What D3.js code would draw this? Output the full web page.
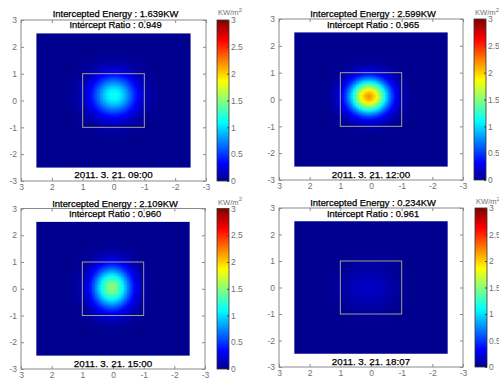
<!DOCTYPE html>
<html><head><meta charset="utf-8">
<script src="https://cdn.jsdelivr.net/npm/d3@7"></script>
<style>
html,body{margin:0;padding:0;background:#fff;}
svg{display:block;font-family:"Liberation Sans",Arial,sans-serif;}
</style></head>
<body>
<svg id="chart" width="499" height="378"></svg>
<script>
// ---------- data ----------
const panelTimes = ["2011. 3. 21. 09:00", "2011. 3. 21. 12:00", "2011. 3. 21. 15:00", "2011. 3. 21. 18:07"];
const interceptedEnergy = ["1.639", "2.599", "2.109", "0.234"];
const interceptRatio = ["0.949", "0.965", "0.960", "0.961"];
const axisTicks = [3, 2, 1, 0, -1, -2, -3];
const colorbarTicks = [3, 2.5, 2, 1.5, 1, 0.5, 0];
const fluxMax = 3;
const heliostatHalf = 2.5;      // flux map extent (m)
const receiverHalf = 1;         // receiver square (m)
// radial flux profiles (kW/m^2)
const profileRadii = [0, 0.2, 0.4, 0.6, 0.8, 1.0, 1.2, 1.4, 1.6];
const flux0900 = [1.17, 1.07, 0.83, 0.54, 0.30, 0.14, 0.055, 0.018, 0];
const flux1200 = [2.21, 1.99, 1.46, 0.87, 0.42, 0.17, 0.053, 0.014, 0];
const flux1500 = [1.55, 1.42, 1.09, 0.70, 0.375, 0.17, 0.064, 0.02, 0];
const flux1807 = [0.16, 0.15, 0.125, 0.09, 0.058, 0.032, 0.015, 0.006, 0];
const spotCenterX = [0.0, 0.08, 0.05, 0.1];
const spotCenterY = [0.2, 0.12, 0.05, 0.0];
const spotStretchX = [1.0, 1.0, 0.89, 1.0];
const spotStretchY = [1.05, 1.0, 1.12, 1.0];

// ---------- layout ----------
const layouts = [
  {x0: 21, x1: 206, y0: 20, y1: 181, cbx: 217, t1: 17, t2: 28, td: 178, cl: 16},
  {x0: 279, x1: 463, y0: 19, y1: 180, cbx: 474, t1: 17, t2: 28, td: 178, cl: 16},
  {x0: 21, x1: 205, y0: 208.5, y1: 369, cbx: 217, t1: 206.5, t2: 217, td: 367, cl: 205.5},
  {x0: 279, x1: 463, y0: 208, y1: 367, cbx: 475, t1: 206, t2: 216.5, td: 364.5, cl: 205}
];
const profiles = [flux0900, flux1200, flux1500, flux1807];

function jet(v) {
  const t = Math.max(0, Math.min(1, v / fluxMax));
  const r = 1 + 63 * t;
  const c = x => Math.max(0, Math.min(1, x));
  const B = r <= 8 ? (r + 8) / 16 : r <= 24 ? 1 : c((40 - r) / 16);
  const G = r < 8 ? 0 : r <= 24 ? (r - 8) / 16 : r <= 40 ? 1 : c((56 - r) / 16);
  const R = r < 24 ? 0 : r <= 40 ? (r - 24) / 16 : r <= 56 ? 1 : c((72 - r) / 16);
  return d3.rgb(R * 255, G * 255, B * 255).formatHex();
}

const svg = d3.select("#chart");
const defs = svg.append("defs");
const grad = defs.append("linearGradient").attr("id", "jetgrad")
  .attr("x1", 0).attr("y1", 1).attr("x2", 0).attr("y2", 0);
d3.range(0, 65).forEach(i => {
  grad.append("stop").attr("offset", i / 64).attr("stop-color", jet(fluxMax * i / 64));
});

const axisGray = "#8a8a8a";
const labelGray = "#707070";
const step = 0.05;
const gridPts = d3.range(-heliostatHalf + step / 2, heliostatHalf, step);

layouts.forEach((L, k) => {
  const g = svg.append("g");
  const x = d3.scaleLinear().domain([3, -3]).range([L.x0, L.x1]);
  const y = d3.scaleLinear().domain([3, -3]).range([L.y0, L.y1]);
  const prof = d3.interpolateBasis(profiles[k]);
  const rMax = profileRadii[profileRadii.length - 1];
  const val = (px, py) => {
    const dx = (px - spotCenterX[k]) / spotStretchX[k];
    const dy = (py - spotCenterY[k]) / spotStretchY[k];
    const r = Math.sqrt(dx * dx + dy * dy);
    return r >= rMax ? 0 : prof(r / rMax);
  };
  // background (zero flux) plate
  g.append("rect")
    .attr("x", x(heliostatHalf)).attr("y", y(heliostatHalf))
    .attr("width", x(-heliostatHalf) - x(heliostatHalf))
    .attr("height", y(-heliostatHalf) - y(heliostatHalf))
    .attr("fill", jet(0));
  // flux cells
  const cells = [];
  gridPts.forEach(cx => gridPts.forEach(cy => {
    const v = val(cx, cy);
    if (v > 0.004) cells.push({cx, cy, v});
  }));
  const cw = Math.abs(x(0) - x(step));
  const ch = Math.abs(y(0) - y(step));
  g.append("g").selectAll("rect").data(cells).join("rect")
    .attr("x", d => x(d.cx + step / 2) - 0.3)
    .attr("y", d => y(d.cy + step / 2) - 0.3)
    .attr("width", cw + 0.6).attr("height", ch + 0.6)
    .attr("fill", d => jet(d.v));
  // receiver square
  g.append("rect")
    .attr("x", x(receiverHalf)).attr("y", y(receiverHalf))
    .attr("width", x(-receiverHalf) - x(receiverHalf))
    .attr("height", y(-receiverHalf) - y(receiverHalf))
    .attr("fill", "none").attr("stroke", "#a39e8a").attr("stroke-width", 1);

  // axes frame
  g.append("rect").attr("x", L.x0).attr("y", L.y0)
    .attr("width", L.x1 - L.x0).attr("height", L.y1 - L.y0)
    .attr("fill", "none").attr("stroke", axisGray).attr("stroke-width", 1);
  const fmt = d => String(d);
  const styleAxis = sel => {
    sel.select(".domain").remove();
    sel.selectAll(".tick line").attr("stroke", axisGray);
    sel.selectAll(".tick text").attr("fill", labelGray).attr("font-size", "8.5px")
      .attr("font-family", "Liberation Sans, Arial, sans-serif");
  };
  g.append("g").attr("transform", `translate(0,${L.y1})`)
    .call(d3.axisBottom(x).tickValues(axisTicks).tickFormat(fmt).tickSize(-3).tickPadding(3)).call(styleAxis);
  g.append("g").attr("transform", `translate(0,${L.y0})`)
    .call(d3.axisTop(x).tickValues(axisTicks).tickFormat("").tickSize(-3)).call(styleAxis);
  g.append("g").attr("transform", `translate(${L.x0},0)`)
    .call(d3.axisLeft(y).tickValues(axisTicks).tickFormat(fmt).tickSize(-3).tickPadding(4)).call(styleAxis);
  g.append("g").attr("transform", `translate(${L.x1},0)`)
    .call(d3.axisRight(y).tickValues(axisTicks).tickFormat("").tickSize(-3)).call(styleAxis);

  // titles
  const cx = (L.x0 + L.x1) / 2 + 2;
  const title = (yy, size, str, xx) => g.append("text").attr("x", xx).attr("y", yy)
    .attr("text-anchor", "middle").attr("font-size", size).attr("fill", "#000")
    .attr("stroke", "#000").attr("stroke-width", 0.25).text(str);
  title(L.t1, "9.4px", `Intercepted Energy : ${interceptedEnergy[k]}KW`, cx);
  title(L.t2, "9.4px", `Intercept Ratio : ${interceptRatio[k]}`, cx);
  title(L.td, "9.8px", panelTimes[k], (L.x0 + L.x1) / 2);

  // colorbar
  const cbw = 12;
  const cy = d3.scaleLinear().domain([fluxMax, 0]).range([L.y0, L.y1]);
  g.append("rect").attr("x", L.cbx).attr("y", L.y0).attr("width", cbw)
    .attr("height", L.y1 - L.y0).attr("fill", "url(#jetgrad)")
    .attr("stroke", "#333").attr("stroke-width", 0.8);
  const cbAxis = g.append("g").attr("transform", `translate(${L.cbx + cbw},0)`)
    .call(d3.axisRight(cy).tickValues(colorbarTicks).tickFormat(fmt).tickSize(-2).tickPadding(2));
  cbAxis.select(".domain").remove();
  cbAxis.selectAll(".tick line").attr("stroke", "#444");
  cbAxis.selectAll(".tick text").attr("fill", labelGray).attr("font-size", "8.5px")
    .attr("font-family", "Liberation Sans, Arial, sans-serif");
  const unit = g.append("text").attr("x", L.cbx + 1).attr("y", L.cl - 1)
    .attr("font-size", "7.6px").attr("fill", labelGray);
  unit.append("tspan").text("KW/m");
  unit.append("tspan").attr("dy", -3.5).attr("font-size", "6px").text("2");
});
</script>
</body></html>
